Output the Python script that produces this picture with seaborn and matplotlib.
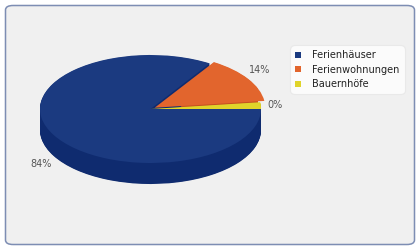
import numpy as np
import matplotlib
matplotlib.use("Agg")
import matplotlib.pyplot as plt
from matplotlib.patches import FancyBboxPatch
from matplotlib.transforms import Bbox, TransformedBbox
import seaborn as sns

# ---- data ----
categories = ["Ferienhäuser", "Ferienwohnungen", "Bauernhöfe"]
shares = [84, 14, 2]
share_labels = ["84%", "14%", "0%"]

# ---- style ----
top_colors = ["#1b3a80", "#e2652d", "#e0d42a"]
side_colors = ["#0f2b6f", "#c4521f", "#c9b91c"]
explode = [0.0, 0.045, 0.0]

sns.set_theme(style="white")
plt.rcParams["font.family"] = ["DejaVu Sans"]

W, H = 420, 250
fig = plt.figure(figsize=(W / 100, H / 100), dpi=100, facecolor="white")

# panel background
bg = FancyBboxPatch((5.5 / W, 5.5 / H), (W - 11) / W, (H - 11) / H,
                    boxstyle="round,pad=0,rounding_size=0.018",
                    transform=fig.transFigure, facecolor="#f0f0f0",
                    edgecolor="#7d8db3", linewidth=1.1, zorder=-5)
fig.patches.append(bg)

ax = fig.add_axes([0, 0, 1, 1])
ax.set_facecolor("none")
ax.set_zorder(1)

cx, cy = 150.5, 109.0     # pixel centre (from top)
rx, ry = 110.5, 54.0      # pixel radii
depth = 21.0 / ry         # wall height in y-data units

# side wall: stacked, darker copies of the pie
wall_box = TransformedBbox(Bbox([[-5.0, -5.0], [0.975, 5.0]]), ax.transData)
n_layers = 40
for d in np.linspace(depth, 0.0, n_layers, endpoint=False):
    side, _ = ax.pie(shares, colors=side_colors, startangle=0, counterclock=False,
                     explode=explode, center=(0, -d), radius=1.0,
                     wedgeprops=dict(linewidth=0, antialiased=True))
    for sw, ex in zip(side, explode):
        sw.set_zorder(1.5 if ex > 0 else 2.0)
        if ex > 0:
            sw.set_clip_path(None)
            sw.set_clip_box(wall_box)
            sw.set_clip_on(True)

# top face
wedges, _ = ax.pie(shares, colors=top_colors, startangle=0, counterclock=False,
                   explode=explode, center=(0, 0), radius=1.0,
                   wedgeprops=dict(linewidth=0, antialiased=True))
for w in wedges:
    w.set_zorder(3)

ax.set_aspect("auto")
ax.set_xlim(-cx / rx, (W - cx) / rx)
ax.set_ylim(-(H - cy) / ry, cy / ry)
ax.axis("off")

# percentage labels, positioned from the wedge angles
for w, lab, ex in zip(wedges, share_labels, explode):
    mid = np.deg2rad((w.theta1 + w.theta2) / 2)
    c, s = np.cos(mid), np.sin(mid)
    x = 1.13 * c + ex * c
    y = 1.3 * s + ex * s
    if s < 0:
        y -= depth
    ax.text(x, y, lab, ha="center", va="center", fontsize=7, color="#555555",
            zorder=4)

leg = fig.legend(wedges, categories, loc="upper left",
                 bbox_to_anchor=(290 / W, 1 - 45 / H),
                 frameon=True, fancybox=True, fontsize=7,
                 handlelength=0.6, handleheight=0.6, handletextpad=1.1,
                 labelspacing=0.45, borderpad=0.55, borderaxespad=0)
leg.set_zorder(10)
frame = leg.get_frame()
frame.set_facecolor("white")
frame.set_edgecolor("#e6e6e6")
frame.set_linewidth(0.8)
frame.set_boxstyle("round,pad=0,rounding_size=0.5")
for t in leg.get_texts():
    t.set_color("#222222")

fig.savefig("out.png", dpi=100, facecolor="white")
